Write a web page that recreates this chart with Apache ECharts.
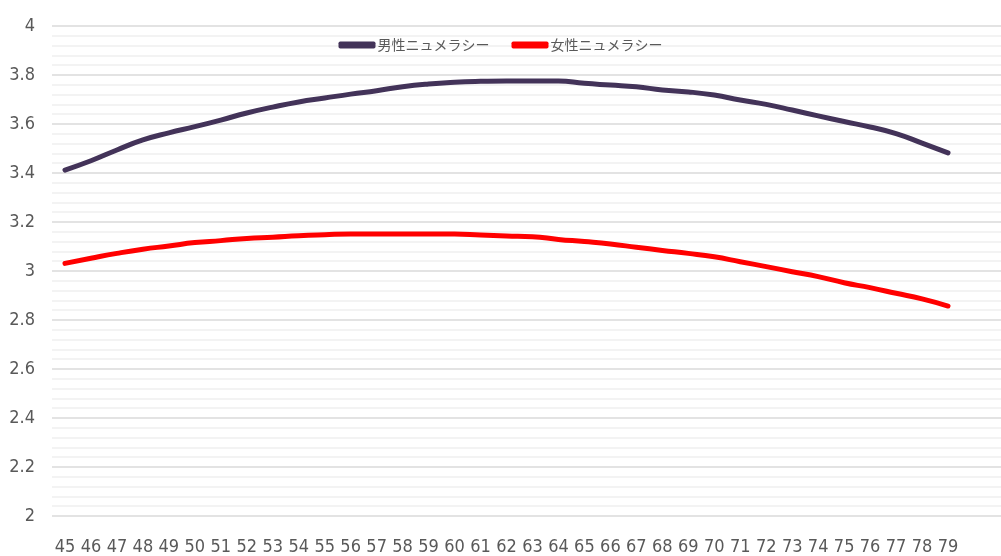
<!DOCTYPE html>
<html>
<head>
<meta charset="utf-8">
<script src="https://cdn.jsdelivr.net/npm/echarts@6/dist/echarts.min.js"></script>
<style>
html,body{margin:0;padding:0;background:#fff;}
#chart{width:1001px;height:556px;}
</style>
</head>
<body>
<div id="chart"></div>
<script>
const ages = ['45','46','47','48','49','50','51','52','53','54','55','56','57','58','59','60','61','62','63','64','65','66','67','68','69','70','71','72','73','74','75','76','77','78','79'];
const maleName = '男性ニュメラシー';
const femaleName = '女性ニュメラシー';
const maleValues = [3.412,3.450,3.494,3.535,3.564,3.589,3.616,3.645,3.669,3.690,3.706,3.722,3.736,3.752,3.763,3.770,3.774,3.776,3.776,3.776,3.766,3.759,3.752,3.739,3.731,3.718,3.698,3.680,3.657,3.633,3.610,3.588,3.561,3.522,3.482];
const femaleValues = [3.031,3.052,3.072,3.089,3.102,3.116,3.124,3.133,3.138,3.144,3.148,3.151,3.151,3.151,3.151,3.151,3.147,3.143,3.140,3.129,3.120,3.110,3.097,3.084,3.072,3.058,3.038,3.018,2.997,2.977,2.952,2.932,2.909,2.886,2.857];
const yMin = 2, yMax = 4, yStep = 0.2;

const numFont = "'Liberation Sans Narrow', 'DejaVu Sans Condensed', sans-serif";
const chart = echarts.init(document.getElementById('chart'), null, {renderer: 'canvas'});
chart.setOption({
  animation: false,
  backgroundColor: '#ffffff',
  legend: {
    top: 33,
    left: 'center',
    itemGap: 22,
    itemWidth: 37,
    itemHeight: 7,
    icon: 'roundRect',
    textStyle: {fontFamily: "'Noto Sans CJK JP', sans-serif", fontSize: 14, color: '#595959', padding: [0,0,0,-3]},
    data: [maleName, femaleName]
  },
  grid: [
    {left: 52, right: 40, top: 26, bottom: 40, containLabel: false},
    {left: 52, right: 0, top: 26, bottom: 40, containLabel: false}
  ],
  xAxis: [
    {
      type: 'category', gridIndex: 0, data: ages, boundaryGap: true,
      axisLine: {show: false}, axisTick: {show: false},
      axisLabel: {interval: 0, margin: 22, fontFamily: numFont, fontSize: 18, color: '#595959'}
    },
    {type: 'value', gridIndex: 1, show: false, min: 0, max: 1}
  ],
  yAxis: [
    {type: 'value', gridIndex: 0, min: yMin, max: yMax, interval: yStep, show: false, splitLine: {show: false}},
    {
      type: 'value', gridIndex: 1, min: yMin, max: yMax, interval: yStep,
      axisLine: {show: false}, axisTick: {show: false},
      axisLabel: {margin: 17, fontFamily: numFont, fontSize: 18, color: '#595959'},
      splitLine: {show: true, lineStyle: {color: '#e3e3e3', width: 2}},
      minorTick: {show: false, splitNumber: 5},
      minorSplitLine: {show: true, lineStyle: {color: '#f3f3f3', width: 2}}
    }
  ],
  series: [
    {
      name: maleName, type: 'line', xAxisIndex: 0, yAxisIndex: 0, data: maleValues,
      smooth: 0.5, showSymbol: false, symbol: 'none',
      lineStyle: {color: '#433359', width: 5, cap: 'round', join: 'round'},
      itemStyle: {color: '#433359'}
    },
    {
      name: femaleName, type: 'line', xAxisIndex: 0, yAxisIndex: 0, data: femaleValues,
      smooth: 0.5, showSymbol: false, symbol: 'none',
      lineStyle: {color: '#ff0000', width: 5, cap: 'round', join: 'round'},
      itemStyle: {color: '#ff0000'}
    }
  ]
});
</script>
</body>
</html>
